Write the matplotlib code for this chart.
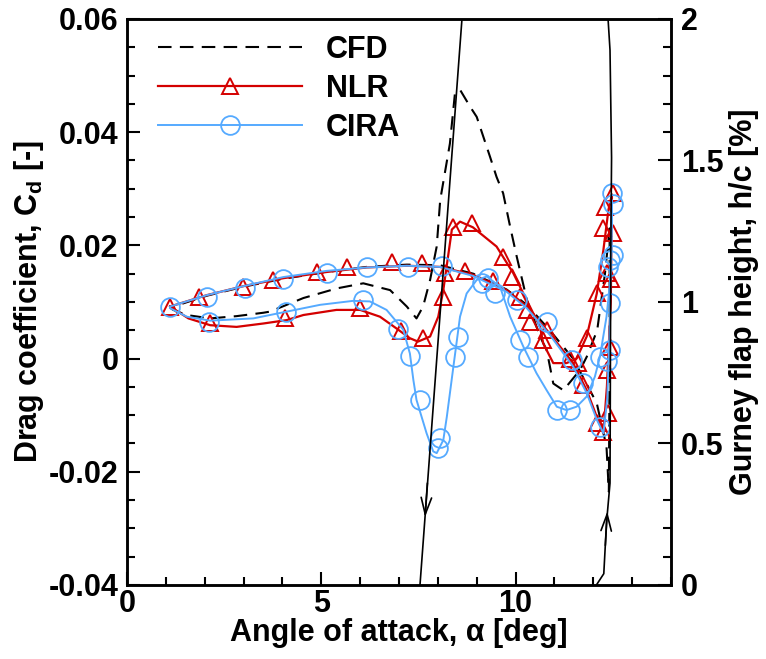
import matplotlib
matplotlib.use('Agg')
import matplotlib.pyplot as plt
from matplotlib.lines import Line2D
from matplotlib.ticker import MultipleLocator, FuncFormatter

# ---- data ----
# NLR: closed loop (upstroke lower branch, downstroke upper branch)
nlr_line_aoa = [1.11, 1.58, 2.14, 2.82, 3.51, 4.11, 4.54, 5.39, 6.00, 6.51, 6.94, 7.28, 7.49,
                7.80, 8.01, 8.14, 8.36, 8.57, 8.90, 9.51, 9.94, 10.28, 10.63, 10.71, 10.97,
                11.31, 11.57, 11.83, 12.09, 12.26, 12.39, 12.48, 12.45, 12.35, 12.26, 12.09,
                11.83, 11.48, 10.88, 10.29, 9.77, 8.91, 8.05, 7.20, 6.17, 5.14, 4.02, 3.00,
                2.05, 1.11]
nlr_line_cd = [0.0092, 0.0071, 0.0059, 0.0056, 0.0062, 0.0068, 0.0077, 0.0086, 0.0086, 0.0074,
               0.0053, 0.0036, 0.0030, 0.0039, 0.0074, 0.0121, 0.0228, 0.0242, 0.0232, 0.0198,
               0.0151, 0.0104, 0.0056, 0.0027, -0.0008, -0.0008, 0.0000, 0.0039, 0.0115,
               0.0192, 0.0263, 0.0290, 0.0100, -0.0050, -0.0132, -0.0103, -0.0056, -0.0008,
               0.0044, 0.0092, 0.0121, 0.0148, 0.0162, 0.0164, 0.0161, 0.0153, 0.0142,
               0.0128, 0.0112, 0.0092]
nlr_mk_aoa = [1.11, 1.84, 2.14, 2.99, 3.76, 4.07, 4.88, 5.65, 6.00, 6.81, 7.05, 7.58, 7.63,
              8.14, 8.18, 8.40, 8.70, 8.87, 9.43, 9.68, 9.90, 10.11, 10.29, 10.37, 10.71,
              10.80, 11.40, 11.61, 11.74, 11.83, 12.09, 12.09, 12.26, 12.26, 12.30, 12.34,
              12.34, 12.38, 12.43, 12.46, 12.51, 12.51]
nlr_mk_cd = [0.0092, 0.0109, 0.0062, 0.0127, 0.0139, 0.0071, 0.0153, 0.0162, 0.0089, 0.0171,
             0.0048, 0.0168, 0.0036, 0.0109, 0.0151, 0.0233, 0.0155, 0.0239, 0.0137, 0.0180,
             0.0145, 0.0109, 0.0086, 0.0065, 0.0033, 0.0051, 0.0000, -0.0007, -0.0047,
             0.0036, 0.0115, -0.0114, 0.0230, -0.0129, 0.0268, 0.0151, -0.0020, -0.0097,
             0.0021, 0.0140, 0.0292, 0.0221]

# CIRA
cira_line_aoa = [1.11, 1.54, 2.14, 3.25, 4.11, 4.97, 5.82, 6.25, 6.68, 7.11, 7.28, 7.37,
                 7.45, 7.71, 7.88, 7.97, 8.14, 8.23, 8.40, 8.57, 8.74, 9.00, 9.26, 9.60,
                 9.86, 10.20, 10.54, 10.80, 11.06, 11.31, 11.57, 11.83, 12.04, 12.17, 12.34,
                 12.43, 12.47, 12.48, 12.45, 12.42, 12.36, 12.26, 12.09, 11.83, 11.48, 10.88,
                 10.29, 9.77, 8.91, 8.05, 7.20, 6.17, 5.14, 4.02, 3.00, 2.05, 1.11]
cira_line_cd = [0.0089, 0.0074, 0.0067, 0.0071, 0.0083, 0.0095, 0.0102, 0.0101, 0.0086,
                0.0051, 0.0009, -0.0038, -0.0073, -0.0132, -0.0164, -0.0167, -0.0144,
                -0.0103, -0.0014, 0.0074, 0.0115, 0.0139, 0.0145, 0.0127, 0.0074, 0.0021,
                -0.0026, -0.0056, -0.0085, -0.0091, -0.0085, -0.0067, -0.0032, 0.0003,
                0.0074, 0.0133, 0.0192, 0.0280, 0.0200, 0.0050, -0.0070, -0.0132, -0.0108,
                -0.0061, -0.0014, 0.0042, 0.0089, 0.0118, 0.0146, 0.0162, 0.0164, 0.0161,
                0.0155, 0.0144, 0.0128, 0.0112, 0.0092]
cira_mk_aoa = [1.11, 2.07, 3.04, 4.02, 5.14, 6.17, 7.24, 8.10, 10.03, 10.80, 11.44, 11.74,
               12.17, 2.12, 4.08, 6.08, 6.98, 7.28, 7.54, 8.05, 8.01, 8.44, 8.53, 9.13, 9.30,
               9.47, 10.11, 10.33, 11.06, 11.40, 12.17, 12.34, 12.43, 12.43, 12.43, 12.38,
               12.47, 12.51, 12.51]
cira_mk_cd = [0.0092, 0.0109, 0.0124, 0.0140, 0.0151, 0.0161, 0.0161, 0.0163, 0.0104, 0.0065,
              -0.0003, -0.0044, -0.0120, 0.0065, 0.0083, 0.0103, 0.0053, 0.0004, -0.0073,
              -0.0141, -0.0158, 0.0003, 0.0039, 0.0133, 0.0142, 0.0115, 0.0033, 0.0003,
              -0.0091, -0.0091, 0.0003, -0.0005, 0.0016, 0.0098, 0.0174, 0.0162, 0.0292,
              0.0274, 0.0183]

# CFD
cfd_aoa = [1.11, 1.19, 1.53, 2.14, 2.82, 3.51, 3.68, 4.54, 5.40, 6.08, 6.77, 7.20, 7.45,
           7.62, 7.80, 7.97, 8.06, 8.31, 8.44, 8.57, 8.83, 9.00, 9.17, 9.34, 9.51, 9.68,
           9.86, 10.03, 10.29, 10.63, 10.80, 10.97, 11.23, 11.66, 11.83, 12.10, 12.30, 12.42,
           12.42, 12.40, 12.34, 12.09, 11.83, 11.48, 10.88, 10.29, 9.77, 8.91, 8.05, 7.20,
           6.17, 5.14, 4.02, 3.00, 2.05, 1.11]
cfd_cd = [0.0090, 0.0086, 0.0077, 0.0071, 0.0075, 0.0081, 0.0083, 0.0107, 0.0124, 0.0133,
          0.0121, 0.0092, 0.0071, 0.0092, 0.0139, 0.0198, 0.0280, 0.0380, 0.0469, 0.0475,
          0.0445, 0.0427, 0.0392, 0.0357, 0.0321, 0.0292, 0.0233, 0.0180, 0.0104, 0.0039,
          0.0015, -0.0044, -0.0056, -0.0020, 0.0003, 0.0050, 0.0150, 0.0230, 0.0000,
          -0.0235, -0.0156, -0.0079, -0.0045, 0.0000, 0.0050, 0.0095, 0.0122, 0.0150,
          0.0165, 0.0166, 0.0162, 0.0153, 0.0141, 0.0127, 0.0111, 0.0090]

# Gurney flap height (right axis)
flap_up_aoa = [7.54, 8.08, 8.62]
flap_up_h = [0.0, 1.0, 2.0]
flap_dn_aoa = [12.08, 12.27, 12.34, 12.43, 12.45, 12.47, 12.43, 12.38]
flap_dn_h = [0.0, 0.04, 0.22, 0.36, 1.18, 1.51, 1.89, 2.0]
# arrows on the flap curve: (start aoa, start h, tip aoa, tip h)
flap_arrows = [(7.73, 0.36, 7.67, 0.24), (12.31, 0.14, 12.36, 0.26)]

RED = '#d40000'
BLUE = '#55aaff'

plt.rcParams['font.family'] = 'Liberation Sans'
plt.rcParams['font.weight'] = 'bold'
plt.rcParams['axes.labelweight'] = 'bold'
plt.rcParams['axes.unicode_minus'] = False

fig = plt.figure(figsize=(7.66, 6.59), dpi=100)
ax = fig.add_axes([0.1658, 0.1123, 0.7102, 0.8589])

ax.plot(cfd_aoa, cfd_cd, color='k', lw=1.5, ls=(0, (6.5, 4)), zorder=2)
ax.plot(nlr_line_aoa, nlr_line_cd, color=RED, lw=1.6, zorder=3)
ax.plot(nlr_mk_aoa, nlr_mk_cd, ls='none', marker='^', ms=12, mfc='none', mec=RED, mew=1.4, zorder=3)
ax.plot(cira_line_aoa, cira_line_cd, color=BLUE, lw=1.4, zorder=4)
ax.plot(cira_mk_aoa, cira_mk_cd, ls='none', marker='o', ms=13.5, mfc='none', mec=BLUE, mew=1.3, zorder=4)

ax.set_xlim(0, 14)
ax.set_ylim(-0.04, 0.06)
ax.xaxis.set_major_locator(MultipleLocator(5))
ax.xaxis.set_minor_locator(MultipleLocator(1))
ax.yaxis.set_major_locator(MultipleLocator(0.02))
ax.yaxis.set_minor_locator(MultipleLocator(0.005))
ax.xaxis.set_major_formatter(FuncFormatter(lambda v, p: '' if v > 13 else '%g' % v))
ax.yaxis.set_major_formatter(FuncFormatter(lambda v, p: '0' if abs(v) < 1e-9 else '%.2f' % v))
ax.tick_params(which='both', direction='in', top=False, right=False, width=1.5, labelsize=22)
ax.tick_params(which='major', length=9.5)
ax.tick_params(which='minor', length=5.5)
ax.tick_params(axis='y', pad=6)
ax.tick_params(axis='x', pad=3)
for s in ax.spines.values():
    s.set_linewidth(1.8)

ax.set_xlabel('Angle of attack, α [deg]', fontsize=22, labelpad=-1)
ax.set_ylabel('Drag coefficient, C$_\\mathregular{d}$ [-]', fontsize=22, labelpad=2)

ax2 = ax.twinx()
ax2.plot(flap_up_aoa, flap_up_h, color='k', lw=1.2)
ax2.plot(flap_dn_aoa, flap_dn_h, color='k', lw=1.2)
for a0, h0, a1, h1 in flap_arrows:
    ax2.annotate('', xy=(a1, h1), xytext=(a0, h0),
                 arrowprops=dict(arrowstyle='->,head_length=0.8,head_width=0.25',
                                 color='k', lw=1.2, mutation_scale=15, shrinkA=0, shrinkB=0))
ax2.set_ylim(0, 2)
ax2.yaxis.set_major_locator(MultipleLocator(0.5))
ax2.yaxis.set_minor_locator(MultipleLocator(0.1))
ax2.yaxis.set_major_formatter(FuncFormatter(lambda v, p: '%g' % v))
ax2.tick_params(which='both', direction='in', width=1.5, labelsize=22, pad=7)
ax2.tick_params(which='major', length=9.5)
ax2.tick_params(which='minor', length=5.5)
for s in ax2.spines.values():
    s.set_linewidth(1.8)
ax2.set_ylabel('Gurney flap height, h/c [%]', fontsize=22, labelpad=4)

handles = [Line2D([], [], color='k', lw=1.5, ls=(0, (6.5, 4))),
           Line2D([], [], color=RED, lw=1.6, marker='^', ms=12, mfc='none', mew=1.4),
           Line2D([], [], color=BLUE, lw=1.4, marker='o', ms=13.5, mfc='none', mew=1.3)]
ax.legend(handles, ['CFD', 'NLR', 'CIRA'], loc='upper left', bbox_to_anchor=(0.057, 0.972),
          frameon=False, fontsize=22, handlelength=4.7, handletextpad=0.8,
          labelspacing=0.3, borderaxespad=0, borderpad=0, numpoints=1)

fig.savefig('out.png', dpi=100)
